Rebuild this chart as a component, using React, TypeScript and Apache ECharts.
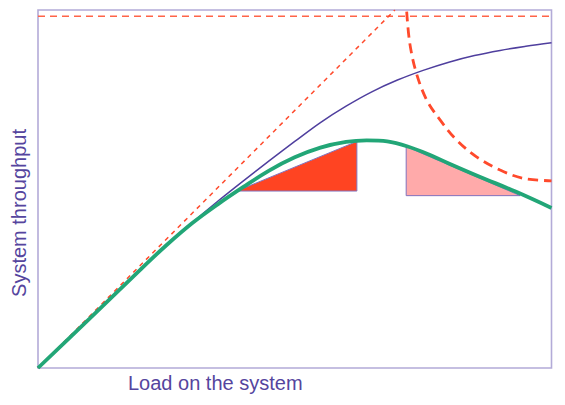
import { useEffect, useRef } from 'react';
import * as echarts from 'echarts';

// load (x) and throughput (y), in chart units (x 0..100, y 0..70)
const capacityLoad = [0, 100];
const capacityLevel = [68.8, 68.8];

const idealLoad = [0, 69.5];
const idealThroughput = [0, 70];

const queueLoad = [0, 10, 20, 25, 30, 35, 40, 45, 50, 55, 60, 65, 70, 75, 80, 85, 90, 95, 100];
const queueThroughput = [0, 9.6, 19.3, 24.0, 28.4, 32.6, 36.6, 40.5, 44.3, 48.0, 51.2, 54.0, 56.3, 58.2, 59.8, 61.1, 62.1, 62.9, 63.6];

const realLoad = [0, 10, 20, 25, 30, 35, 40, 45, 50, 55, 60, 64, 68, 72, 76, 80, 86, 93, 100];
const realThroughput = [0, 9.6, 19.3, 24.0, 28.3, 32.0, 35.4, 38.6, 41.2, 43.1, 44.2, 44.5, 44.3, 43.3, 41.8, 40.0, 37.4, 34.5, 31.3];

const collapseLoad = [71.8, 72.4, 73.7, 75.7, 78.3, 81.5, 85.4, 90.0, 94.5, 100];
const collapseThroughput = [69.7, 63.5, 57.6, 52.4, 48.5, 44.6, 41.3, 38.7, 37.1, 36.6];

const gainTriangle = [[38.7, 34.6], [62.1, 44.3], [62.1, 34.6]];
const lossTriangle = [[71.7, 43.3], [71.7, 33.7], [93.9, 33.7]];

const xAxisName = 'Load on the system';
const yAxisName = 'System throughput';

const zip = (xs: number[], ys: number[]) => xs.map((x, i) => [x, ys[i]]);

export default function App() {
  const ref = useRef<HTMLDivElement>(null);

  useEffect(() => {
    const element = ref.current;
    if (!element) return undefined;
    const chart = echarts.init(element, undefined, { renderer: 'svg' });
    const ink = '#55459e';
    const frame = '#b3abd8';
    const red = '#ff4a2c';

    const triangle = (points: number[][], fill: string) => ({
      type: 'custom',
      silent: true,
      data: [points.flat()],
      renderItem: (_params: unknown, api: any) => ({
        type: 'polygon',
        shape: {
          points: [0, 1, 2].map((k) => api.coord([api.value(k * 2), api.value(k * 2 + 1)])),
        },
        style: { fill, stroke: '#8272bd', lineWidth: 1 },
      }),
    });

    const line = (data: number[][], color: string, width: number, dash?: number[]) => ({
      type: 'line',
      data,
      showSymbol: false,
      symbol: 'none',
      smooth: 0.35,
      silent: true,
      lineStyle: { color, width, type: dash ?? 'solid', cap: 'butt' },
    });

    chart.setOption({
      animation: false,
      grid: {
        left: 38,
        right: 13.5,
        top: 10,
        bottom: 37,
        show: true,
        borderColor: frame,
        borderWidth: 1.6,
        backgroundColor: 'transparent',
      },
      xAxis: {
        type: 'value', min: 0, max: 100,
        axisLine: { show: false }, axisTick: { show: false },
        axisLabel: { show: false }, splitLine: { show: false },
      },
      yAxis: {
        type: 'value', min: 0, max: 70,
        axisLine: { show: false }, axisTick: { show: false },
        axisLabel: { show: false }, splitLine: { show: false },
      },
      graphic: [
        {
          type: 'text',
          left: 128,
          top: 373,
          style: {
            text: xAxisName,
            fill: ink,
            font: '20px "Liberation Sans", Arial, sans-serif',
          },
        },
        {
          type: 'text',
          x: 19,
          y: 213,
          rotation: Math.PI / 2,
          style: {
            text: yAxisName,
            fill: ink,
            font: '20px "Liberation Sans", Arial, sans-serif',
            align: 'center',
            verticalAlign: 'middle',
          },
        },
      ],
      series: [
        triangle(gainTriangle, '#ff4422'),
        triangle(lossTriangle, '#ffaaaa'),
        { ...line(zip(capacityLoad, capacityLevel), '#ff6448', 1.5, [7, 5]), smooth: false },
        { ...line(zip(idealLoad, idealThroughput), red, 1.5, [4.5, 4.5]), smooth: false },
        line(zip(queueLoad, queueThroughput), '#4f3f9e', 1.5),
        line(zip(collapseLoad, collapseThroughput), red, 2.8, [10, 6]),
        line(zip(realLoad, realThroughput), '#22a677', 3.8),
      ],
    });

    return () => chart.dispose();
  }, []);

  return (
    <div
      ref={ref}
      style={{ position: 'fixed', left: 0, top: 0, width: 565, height: 405, background: '#fff' }}
    />
  );
}
